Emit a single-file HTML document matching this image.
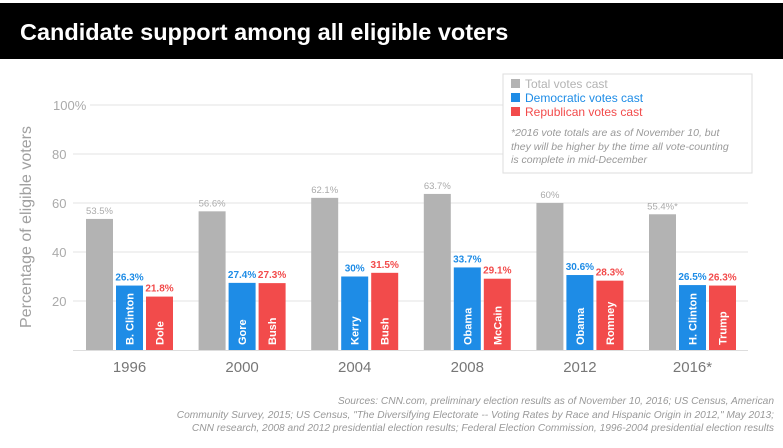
<!DOCTYPE html>
<html><head><meta charset="utf-8"><style>
body{margin:0;background:#fff;width:783px;height:443px;overflow:hidden;font-family:"Liberation Sans",sans-serif}
</style></head><body>
<svg width="783" height="443" xmlns="http://www.w3.org/2000/svg" font-family="Liberation Sans, sans-serif" id="chart">
<rect x="0" y="3" width="783" height="56" fill="#000"/>
<text x="20" y="40" fill="#fff" font-size="23.5" font-weight="bold">Candidate support among all eligible voters</text>
<g id="grid"></g>
<text transform="translate(31,227) rotate(-90)" text-anchor="middle" fill="#a0a0a0" font-size="16">Percentage of eligible voters</text>
<g id="bars"></g>
<g>
<rect x="503" y="74" width="249" height="99" fill="#fff" stroke="#ddd"/>
<rect x="511" y="79" width="9" height="9" fill="#b3b3b3"/>
<text x="525" y="88" font-size="12" fill="#b3b3b3">Total votes cast</text>
<rect x="511" y="93" width="9" height="9" fill="#1e8ce6"/>
<text x="525" y="102" font-size="12" fill="#1e8ce6">Democratic votes cast</text>
<rect x="511" y="107" width="9" height="9" fill="#f24b4b"/>
<text x="525" y="116" font-size="12" fill="#f24b4b">Republican votes cast</text>
<g font-size="10.5" font-style="italic" fill="#999">
<text x="511" y="136">*2016 vote totals are as of November 10, but</text>
<text x="511" y="150">they will be higher by the time all vote-counting</text>
<text x="511" y="163">is complete in mid-December</text>
</g></g>
<g font-size="10.2" font-style="italic" fill="#999" text-anchor="end">
<text x="774" y="404">Sources: CNN.com, preliminary election results as of November 10, 2016; US Census, American</text>
<text x="774" y="418">Community Survey, 2015; US Census, "The Diversifying Electorate -- Voting Rates by Race and Hispanic Origin in 2012," May 2013;</text>
<text x="774" y="431">CNN research, 2008 and 2012 presidential election results; Federal Election Commission, 1996-2004 presidential election results</text>
</g>
</svg>
<script>
const years=["1996","2000","2004","2008","2012","2016*"];
const totalVotes=[53.5,56.6,62.1,63.7,60,55.4];
const demVotes=[26.3,27.4,30,33.7,30.6,26.5];
const repVotes=[21.8,27.3,31.5,29.1,28.3,26.3];
const demNames=["B. Clinton","Gore","Kerry","Obama","Obama","H. Clinton"];
const repNames=["Dole","Bush","Bush","McCain","Romney","Trump"];
const totalLabels=["53.5%","56.6%","62.1%","63.7%","60%","55.4%*"];
const yTicks=[20,40,60,80,100];
const NS="http://www.w3.org/2000/svg";
const y=v=>350-v*2.45;
const gx=i=>86+i*112.6;
function mk(tag,attrs,parent,txt){const e=document.createElementNS(NS,tag);for(const k in attrs)e.setAttribute(k,attrs[k]);if(txt!==undefined)e.textContent=txt;parent.appendChild(e);return e;}
const grid=document.getElementById('grid');
yTicks.forEach(t=>{
 const l=mk('line',{x1:t===100?90:73,x2:748,y1:y(t),y2:y(t),stroke:'#e3e3e3','stroke-width':1},grid);
 
 
 const tx=mk('text',{x:t===100?53:52,y:y(t)+5,'font-size':13,fill:'#aaa'},grid,t===100?'100%':String(t));
 
 
});
const bl=mk('line',{x1:73,x2:748,y1:350.5,y2:350.5,stroke:'#ddd'},grid);


const bars=document.getElementById('bars');
const W=27;
years.forEach((yr,i)=>{
 const x0=gx(i);
 const series=[[totalVotes[i],'#b3b3b3','#aaa',totalLabels[i],null,'total'],[demVotes[i],'#1e8ce6','#1e8ce6',demVotes[i]+'%',demNames[i],'dem'],[repVotes[i],'#f24b4b','#f24b4b',repVotes[i]+'%',repNames[i],'rep']];
 series.forEach((s,j)=>{
  const x=x0+j*30;
  const r=mk('rect',{x:x,y:y(s[0]),width:W,height:350-y(s[0]),fill:s[1]},bars);
  
  
  const lb=mk('text',{x:x+W/2,y:y(s[0])-5,'font-size':s[5]==='total'?9.5:10,'font-weight':s[5]==='total'?'normal':'bold',fill:s[2],'text-anchor':'middle'},bars,s[3]);
  
  
  if(s[4]){
   const n=mk('text',{transform:`translate(${x+W/2+4},345) rotate(-90)`,'font-size':11,'font-weight':'bold',fill:'#fff'},bars,s[4]);
   
   
  }
 });
 const t=mk('text',{x:x0+43.5,y:372,'font-size':15,fill:'#777','text-anchor':'middle'},bars,yr);
 
 
});
</script>
</body></html>
